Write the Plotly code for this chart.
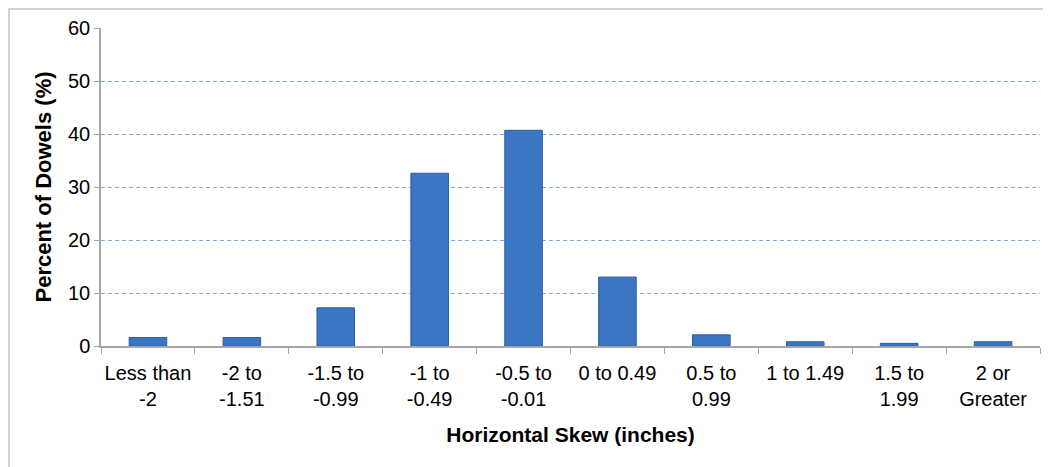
import plotly.graph_objects as go

categories = ["Less than<br>-2", "-2 to<br>-1.51", "-1.5 to<br>-0.99", "-1 to<br>-0.49",
              "-0.5 to<br>-0.01", "0 to 0.49", "0.5 to<br>0.99", "1 to 1.49",
              "1.5 to<br>1.99", "2 or<br>Greater"]
percent = [1.6, 1.6, 7.2, 32.6, 40.7, 13.0, 2.1, 0.8, 0.5, 0.8]
y_ticks = [0, 10, 20, 30, 40, 50, 60]

font_family = "Liberation Sans, Arial, sans-serif"

fig = go.Figure()
fig.add_trace(go.Bar(
    x=categories, y=percent, width=0.4,
    marker=dict(color="#3b76c4", line=dict(color="#2b5d9e", width=1)),
    showlegend=False,
))

# page body has an 8px margin, so the figure is shifted by 8px right and down
fig.update_layout(
    width=1043, height=459,
    margin=dict(l=93, r=11, t=20, b=121),
    paper_bgcolor="white", plot_bgcolor="white",
    font=dict(family=font_family, size=20, color="black"),
    bargap=0.6,
    shapes=[dict(type="rect", xref="paper", yref="paper",
                 x0=-92/939, x1=1.2, y0=-2, y1=1 + 19/318,
                 line=dict(color="#c4c4c4", width=1.5), fillcolor="rgba(0,0,0,0)",
                 layer="above")],
)
fig.update_xaxes(
    type="category", automargin=False, tickangle=0,
    showline=True, linecolor="#a6a6a6", linewidth=1.5,
    ticks="outside", tickson="boundaries", ticklen=6, tickcolor="#a6a6a6",
    ticklabelstandoff=8,
    showgrid=False,
    tickfont=dict(size=20),
    title=dict(text="<b>Horizontal Skew (inches)</b>", font=dict(size=21), standoff=19),
)
fig.update_yaxes(
    range=[0, 60], tickvals=y_ticks, automargin=False,
    showline=True, linecolor="#a6a6a6", linewidth=1.5,
    ticks="outside", ticklen=5, tickcolor="#a6a6a6",
    showgrid=True, gridcolor="#86aadb", griddash="4px,3px", gridwidth=1.2,
    zeroline=False,
    tickfont=dict(size=20),
    title=dict(text="<b>Percent of Dowels (%)</b>", font=dict(size=22), standoff=10),
)

fig.write_html("out.html")
